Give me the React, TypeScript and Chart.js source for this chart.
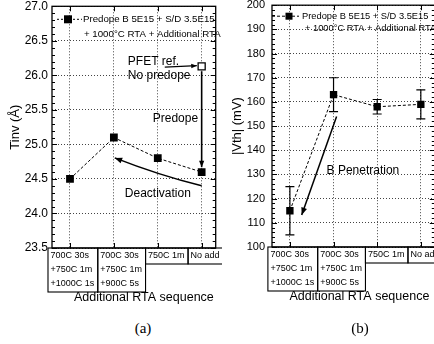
import React, { useEffect, useRef } from "react";
import { Chart, registerables } from "chart.js";

Chart.register(...registerables);

const FONT = '"Liberation Sans", Arial, sans-serif';

// ---------- data ----------
const categoryLines: string[][] = [
  ["700C 30s", "+750C 1m", "+1000C 1s"],
  ["700C 30s", "+750C 1m", "+900C 5s"],
  ["750C 1m"],
  ["No add"],
];
const categoryIndex = [0, 1, 2, 3];

const tinvValues = [24.5, 25.1, 24.8, 24.6];
const tinvReference = 26.13; // PFET ref., no predope (at "No add")
const tinvTicks = [23.5, 24.0, 24.5, 25.0, 25.5, 26.0, 26.5, 27.0];

const vthValues = [115, 163, 158, 159];
const vthLow = [105, 156, 155, 153];
const vthHigh = [125, 170, 161, 165];
const vthTicks = [100, 110, 120, 130, 140, 150, 160, 170, 180, 190, 200];

const legendLine1 = "Predope B 5E15 + S/D 3.5E15";
const legendLine2 = "+ 1000\u00B0C RTA + Additional RTA";
const xTitle = "Additional RTA sequence";

// ---------- helpers ----------
function drawHead(ctx: CanvasRenderingContext2D, x: number, y: number, ang: number, head: number) {
  ctx.beginPath();
  ctx.moveTo(x, y);
  ctx.lineTo(x - head * Math.cos(ang - 0.38), y - head * Math.sin(ang - 0.38));
  ctx.lineTo(x - head * Math.cos(ang + 0.38), y - head * Math.sin(ang + 0.38));
  ctx.closePath();
  ctx.fill();
}

function drawArrow(ctx: CanvasRenderingContext2D, x1: number, y1: number, x2: number, y2: number, lw = 1.4, head = 7) {
  ctx.save();
  ctx.strokeStyle = "#000";
  ctx.fillStyle = "#000";
  ctx.lineWidth = lw;
  ctx.setLineDash([]);
  ctx.beginPath();
  ctx.moveTo(x1, y1);
  ctx.lineTo(x2, y2);
  ctx.stroke();
  drawHead(ctx, x2, y2, Math.atan2(y2 - y1, x2 - x1), head);
  ctx.restore();
}

type Spec = {
  left: number;
  width: number;
  height: number;
  padTop: number;
  padRight: number;
  yAxisWidth: number;
  xAxisHeight: number;
  tickPad: number;
  tickSize: number;
  yMin: number;
  yMax: number;
  yTicks: number[];
  yDigits: number;
  minorStep: number;
  yTitle: string;
  yTitlePad: number;
  xTitleShift: number;
  legend: { dashFrom: number; dashTo: number; marker: number; text1: number; text2: number; y1: number; y2: number; size: number; dash: number[]; msize: number };
  datasets: any[];
  before?: (ctx: CanvasRenderingContext2D, px: (v: number) => number, py: (v: number) => number) => void;
  annotate: (ctx: CanvasRenderingContext2D, px: (v: number) => number, py: (v: number) => number) => void;
};

function buildConfig(spec: Spec): any {
  const framePlugin = {
    id: "frame",
    beforeDatasetsDraw(chart: any) {
      const { ctx, chartArea: a, scales } = chart;
      const px = (v: number) => scales.x.getPixelForValue(v);
      const py = (v: number) => scales.y.getPixelForValue(v);
      ctx.save();
      ctx.strokeStyle = "#000";
      ctx.setLineDash([]);
      ctx.lineWidth = 1;
      const n = Math.round((spec.yMax - spec.yMin) / spec.minorStep);
      const per = Math.round((spec.yTicks[1] - spec.yTicks[0]) / spec.minorStep);
      for (let k = 0; k <= n; k++) {
        const y = Math.round(py(spec.yMin + k * spec.minorStep)) + 0.5;
        const len = k % per === 0 ? 5 : 3;
        ctx.beginPath();
        ctx.moveTo(a.left, y);
        ctx.lineTo(a.left + len, y);
        ctx.moveTo(a.right, y);
        ctx.lineTo(a.right - len, y);
        ctx.stroke();
      }
      categoryIndex.forEach((c) => {
        const x = Math.round(px(c)) + 0.5;
        ctx.beginPath();
        ctx.moveTo(x, a.top);
        ctx.lineTo(x, a.top + 5);
        ctx.moveTo(x, a.bottom);
        ctx.lineTo(x, a.bottom - 5);
        ctx.stroke();
      });
      ctx.lineWidth = 1.3;
      ctx.strokeRect(a.left, a.top, a.right - a.left, a.bottom - a.top);
      ctx.restore();
      if (spec.before) {
        ctx.save();
        spec.before(ctx, px, py);
        ctx.restore();
      }
    },
    afterDatasetsDraw(chart: any) {
      const { ctx, chartArea: a, scales } = chart;
      const px = (v: number) => scales.x.getPixelForValue(v);
      const py = (v: number) => scales.y.getPixelForValue(v);
      ctx.save();
      spec.annotate(ctx, px, py);
      ctx.restore();

      // legend
      const L = spec.legend;
      ctx.save();
      ctx.strokeStyle = "#000";
      ctx.fillStyle = "#000";
      ctx.lineWidth = 1;
      ctx.setLineDash(L.dash);
      ctx.beginPath();
      ctx.moveTo(a.left + L.dashFrom, a.top + L.y1);
      ctx.lineTo(a.left + L.dashTo, a.top + L.y1);
      ctx.stroke();
      ctx.setLineDash([]);
      ctx.fillRect(a.left + L.marker - L.msize / 2, a.top + L.y1 - L.msize / 2, L.msize, L.msize);
      ctx.font = `${L.size}px ${FONT}`;
      ctx.textBaseline = "middle";
      ctx.textAlign = "left";
      ctx.fillText(legendLine1, a.left + L.text1, a.top + L.y1);
      ctx.fillText(legendLine2, a.left + L.text2, a.top + L.y2);
      ctx.restore();

      // boxed category labels
      ctx.save();
      ctx.font = `9px ${FONT}`;
      ctx.fillStyle = "#000";
      ctx.strokeStyle = "#000";
      ctx.lineWidth = 1.1;
      ctx.textBaseline = "middle";
      ctx.textAlign = "left";
      let left = px(categoryIndex[0]) - 22;
      categoryLines.forEach((lines) => {
        const w = Math.max(...lines.map((t) => ctx.measureText(t).width)) + 6;
        const h = lines.length * 14 + 2;
        ctx.strokeRect(left, a.bottom, w, h);
        lines.forEach((t, j) => {
          ctx.fillText(t, left + 2.5, a.bottom + 8 + j * 13.7);
        });
        left += w;
      });
      ctx.font = `12.5px ${FONT}`;
      ctx.textAlign = "center";
      ctx.fillText(xTitle, (a.left + a.right) / 2 + spec.xTitleShift, a.bottom + 50);
      ctx.restore();
    },
  };

  return {
    type: "line",
    data: { datasets: spec.datasets },
    options: {
      animation: false,
      responsive: false,
      devicePixelRatio: 1,
      events: [],
      layout: { padding: { left: 0, top: spec.padTop, right: spec.padRight, bottom: 0 } },
      plugins: { legend: { display: false }, tooltip: { enabled: false } },
      scales: {
        x: {
          type: "linear",
          min: -0.41,
          max: 3.32,
          position: "bottom",
          afterBuildTicks: (s: any) => {
            s.ticks = categoryIndex.map((v) => ({ value: v }));
          },
          afterFit: (s: any) => {
            s.height = spec.xAxisHeight;
            s.paddingLeft = 0;
            s.paddingRight = 0;
          },
          ticks: { display: false },
          grid: { color: "#444", lineWidth: 1, drawTicks: false },
          border: { display: false, dash: [1, 2] },
        },
        y: {
          type: "linear",
          min: spec.yMin,
          max: spec.yMax,
          afterBuildTicks: (s: any) => {
            s.ticks = spec.yTicks.map((v) => ({ value: v }));
          },
          afterFit: (s: any) => {
            s.width = spec.yAxisWidth;
            s.paddingTop = 0;
            s.paddingBottom = 0;
          },
          ticks: {
            color: "#000",
            padding: spec.tickPad,
            font: { family: FONT, size: spec.tickSize },
            callback: (v: number) => Number(v).toFixed(spec.yDigits),
          },
          grid: { color: "#444", lineWidth: 1, drawTicks: false },
          border: { display: false, dash: [1, 2] },
          title: {
            display: true,
            text: spec.yTitle,
            color: "#000",
            font: { family: FONT, size: 13 },
            padding: { top: spec.yTitlePad, bottom: 0 },
          },
        },
      },
    },
    plugins: [framePlugin],
  };
}

const seriesStyle = {
  borderColor: "#000",
  borderWidth: 1,
  borderDash: [3, 2],
  pointStyle: "rect",
  pointRadius: 5.5,
  pointBackgroundColor: "#000",
  pointBorderColor: "#000",
  pointBorderWidth: 0,
  fill: false,
  tension: 0,
};

const specA: Spec = {
  left: 0,
  width: 222,
  height: 310,
  padTop: 4,
  padRight: 6,
  yAxisWidth: 52,
  xAxisHeight: 62,
  tickPad: 4,
  tickSize: 12,
  yMin: 23.5,
  yMax: 27,
  yTicks: tinvTicks,
  yDigits: 1,
  minorStep: 0.1,
  yTitle: "Tinv (\u00C5)",
  yTitlePad: 7.2,
  xTitleShift: 10,
  legend: { dashFrom: 5, dashTo: 30, marker: 16, text1: 31, text2: 32, y1: 13, y2: 28, size: 9.7, dash: [2, 2], msize: 8 },
  datasets: [
    { ...seriesStyle, data: tinvValues.map((y, i) => ({ x: categoryIndex[i], y })) },
    {
      data: [{ x: categoryIndex[3], y: tinvReference }],
      showLine: false,
      pointStyle: "rect",
      pointRadius: 5,
      pointBackgroundColor: "#fff",
      pointBorderColor: "#000",
      pointBorderWidth: 1.3,
    },
  ],
  annotate: (ctx, px, py) => {
    ctx.fillStyle = "#000";
    ctx.font = `12px ${FONT}`;
    ctx.textBaseline = "middle";
    ctx.textAlign = "left";
    ctx.fillText("PFET ref.", px(1.317), py(26.2));
    ctx.fillText("No predope", px(1.317), py(25.99));
    ctx.fillText("Predope", px(1.885), py(25.37));
    ctx.fillText("Deactivation", px(1.25), py(24.29));
    drawArrow(ctx, px(2.16), py(26.12), px(2.89), py(26.14), 1.2, 6);
    drawArrow(ctx, px(3), py(26.06), px(3), py(24.67), 1.6, 7);
    const x1 = px(3), y1 = py(24.4);
    const cx = px(2.0), cy = py(24.56);
    const x2 = px(1.02), y2 = py(24.805);
    ctx.strokeStyle = "#000";
    ctx.lineWidth = 1.6;
    ctx.setLineDash([]);
    ctx.beginPath();
    ctx.moveTo(x1, y1);
    ctx.quadraticCurveTo(cx, cy, x2, y2);
    ctx.stroke();
    drawHead(ctx, x2, y2, Math.atan2(y2 - cy, x2 - cx), 8);
  },
};

const specB: Spec = {
  left: 218,
  width: 222,
  height: 310,
  padTop: 5,
  padRight: 4,
  yAxisWidth: 54,
  xAxisHeight: 63,
  tickPad: 7,
  tickSize: 11,
  yMin: 100,
  yMax: 200,
  yTicks: vthTicks,
  yDigits: 0,
  minorStep: 2,
  yTitle: "|Vth| (mV)",
  yTitlePad: 11.2,
  xTitleShift: 6,
  legend: { dashFrom: 0, dashTo: 27, marker: 17, text1: 30, text2: 33, y1: 11, y2: 23, size: 9.3, dash: [3, 2], msize: 7 },
  datasets: [{ ...seriesStyle, pointRadius: 5.2, data: vthValues.map((y, i) => ({ x: categoryIndex[i], y })) }],
  before: (ctx, px, py) => {
    ctx.strokeStyle = "#000";
    ctx.lineWidth = 1.2;
    ctx.setLineDash([]);
    vthValues.forEach((_, i) => {
      const x = px(categoryIndex[i]);
      const yl = py(vthLow[i]);
      const yh = py(vthHigh[i]);
      ctx.beginPath();
      ctx.moveTo(x, yl);
      ctx.lineTo(x, yh);
      ctx.moveTo(x - 4.5, yl);
      ctx.lineTo(x + 4.5, yl);
      ctx.moveTo(x - 4.5, yh);
      ctx.lineTo(x + 4.5, yh);
      ctx.stroke();
    });
  },
  annotate: (ctx, px, py) => {
    ctx.fillStyle = "#000";
    ctx.font = `12px ${FONT}`;
    ctx.textBaseline = "middle";
    ctx.textAlign = "left";
    ctx.fillText("B Penetration", px(0.84), py(131.4));
    drawArrow(ctx, px(1.07), py(154), px(0.27), py(113.2), 1.5, 8);
  },
};

function Panel({ spec }: { spec: Spec }) {
  const ref = useRef<HTMLCanvasElement>(null);
  useEffect(() => {
    const chart = new Chart(ref.current as HTMLCanvasElement, buildConfig(spec));
    return () => chart.destroy();
  }, [spec]);
  return (
    <canvas
      ref={ref}
      width={spec.width}
      height={spec.height}
      style={{ position: "absolute", left: spec.left, top: 0, width: spec.width, height: spec.height }}
    />
  );
}

const captionStyle: React.CSSProperties = {
  position: "absolute",
  top: 328,
  transform: "translate(-50%, -50%)",
  fontFamily: '"Liberation Serif", "Times New Roman", serif',
  fontSize: 15,
  color: "#000",
  whiteSpace: "nowrap",
};

export default function App() {
  return (
    <div
      style={{
        position: "fixed",
        left: 0,
        top: 0,
        width: 434,
        height: 344,
        overflow: "hidden",
        background: "#fff",
      }}
    >
      <Panel spec={specA} />
      <Panel spec={specB} />
      <div style={{ ...captionStyle, left: 143 }}>(a)</div>
      <div style={{ ...captionStyle, left: 360 }}>(b)</div>
    </div>
  );
}
